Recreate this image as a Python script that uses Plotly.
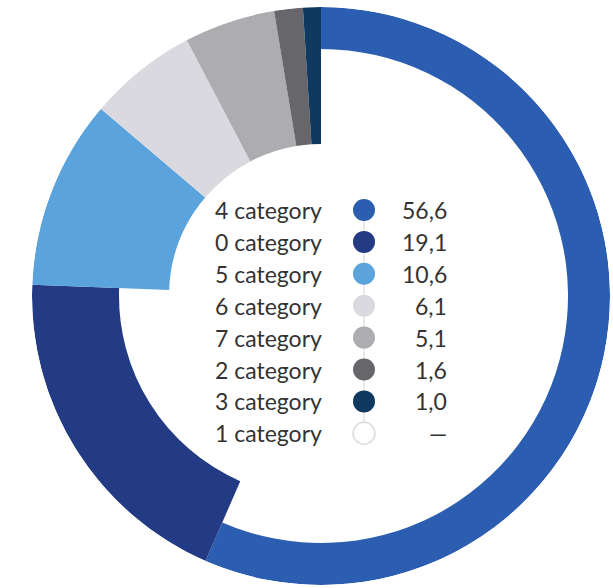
import plotly.graph_objects as go

# Share of each category (%), in drawing order (clockwise from 12 o'clock)
categories = ["4 category", "0 category", "5 category", "6 category",
              "7 category", "2 category", "3 category", "1 category"]
values = [56.6, 19.1, 10.6, 6.1, 5.1, 1.6, 1.0, None]
value_labels = ["56,6", "19,1", "10,6", "6,1", "5,1", "1,6", "1,0", "—"]

# Styling
colors = ["#2B5DB1", "#233A84", "#5AA3DC", "#D9D9DF",
          "#ADADB1", "#67676B", "#0F3960", "#FFFFFF"]
ring_inner = [247, 202, 152, 152, 152, 152, 152, 152]  # inner radius per slice (px)
R_OUT = 289
W, H = 613, 588
CX, CY = 321, 296
FONT = dict(family="Lato", size=23, color="#333333")

drawn = [i for i, v in enumerate(values) if v]
total = sum(values[i] for i in drawn)
thetas, widths, start = [], [], 0.0
for i in drawn:
    w = values[i] / total * 360
    thetas.append(start + w / 2)
    widths.append(w)
    start += w

fig = go.Figure()
fig.add_trace(go.Barpolar(
    theta=thetas,
    width=widths,
    base=[ring_inner[i] for i in drawn],
    r=[R_OUT - ring_inner[i] for i in drawn],
    marker=dict(color=[colors[i] for i in drawn], line=dict(width=0)),
    hoverinfo="skip",
    showlegend=False,
))

# Centre legend: label, coloured dot, value
row0, step = 210, 31.9
x_label, x_dot, x_val = 213, 364, 449
rows = [row0 + k * step for k in range(len(categories))]

fig.add_trace(go.Scatter(
    x=[x_dot, x_dot], y=[rows[0], rows[-1]], mode="lines",
    line=dict(color="#D4D4D8", width=1), hoverinfo="skip", showlegend=False,
    xaxis="x", yaxis="y",
))
fig.add_trace(go.Scatter(
    x=[x_dot] * len(categories), y=rows, mode="markers",
    marker=dict(size=22, color=colors,
                line=dict(color=["rgba(0,0,0,0)"] * 7 + ["#DCDCE0"], width=1.5)),
    hoverinfo="skip", showlegend=False, xaxis="x", yaxis="y",
))

annotations = []
for k, (lab, val) in enumerate(zip(categories, value_labels)):
    annotations.append(dict(x=x_label, y=rows[k], xref="x", yref="y", text=lab,
                            xanchor="left", yanchor="middle", showarrow=False,
                            font=FONT))
    annotations.append(dict(x=x_val, y=rows[k], xref="x", yref="y", text=val,
                            xanchor="right", yanchor="middle", showarrow=False,
                            font=FONT))

fig.update_layout(
    width=W, height=H,
    margin=dict(l=0, r=0, t=0, b=0),
    paper_bgcolor="white", plot_bgcolor="rgba(0,0,0,0)",
    polar=dict(
        domain=dict(x=[(CX - R_OUT) / W, (CX + R_OUT) / W],
                    y=[(H - CY - R_OUT) / H, (H - CY + R_OUT) / H]),
        bgcolor="rgba(0,0,0,0)",
        hole=0,
        radialaxis=dict(range=[0, R_OUT], visible=False),
        angularaxis=dict(direction="clockwise", rotation=90, visible=False),
        bargap=0,
    ),
    xaxis=dict(range=[0, W], visible=False, fixedrange=True),
    yaxis=dict(range=[H, 0], visible=False, fixedrange=True),
    annotations=annotations,
)

fig.write_html("out.html")
